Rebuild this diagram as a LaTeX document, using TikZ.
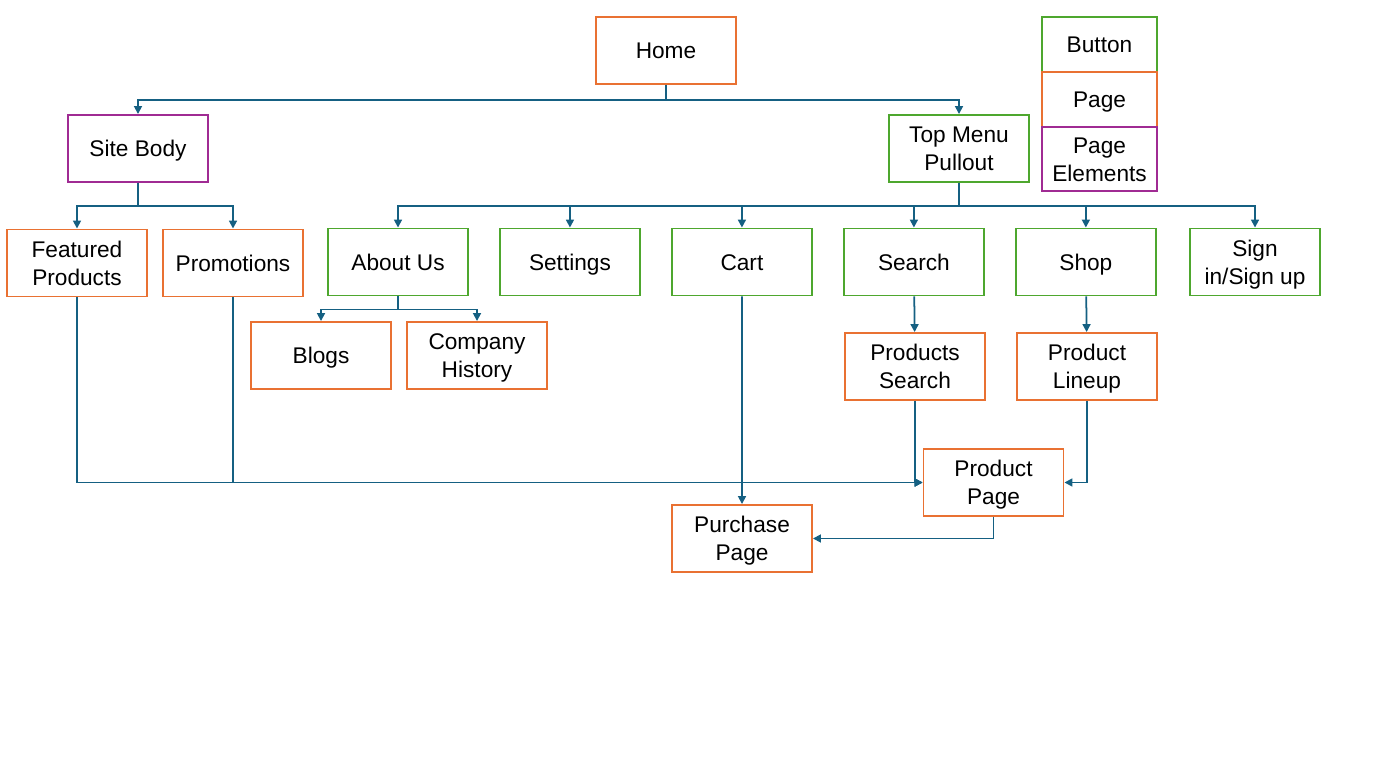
\documentclass[tikz,border=0pt]{standalone}
\usepackage{fontspec}
\setmainfont{Liberation Sans}
\usetikzlibrary{arrows.meta, positioning}

\definecolor{pgorange}{HTML}{E97132}
\definecolor{btngreen}{HTML}{4EA72E}
\definecolor{elpurple}{HTML}{A02B93}
\definecolor{linkblue}{HTML}{156082}

\begin{document}
\begin{tikzpicture}[x=0.02cm, y=-0.02cm, >={Triangle[length=4.5pt,width=4.5pt]}, node distance=3.44cm,
    box/.style={draw, line width=1.1pt, minimum width=2.8cm, minimum height=1.34cm, inner sep=0pt, align=center,
        font=\fontsize{12.9}{15.9}\selectfont, text height=12.24pt, text depth=3pt},
    twoline/.style={text height=28.14pt},
    btn/.style={box, draw=btngreen},
    pg/.style={box, draw=pgorange},
    elem/.style={box, draw=elpurple},
    key/.style={minimum width=2.3cm, outer sep=0pt},
    link/.style={draw=linkblue, line width=1pt}]
    \useasboundingbox (0,0) rectangle (1383,773);

    %define the pages
    \node[pg]   (home) at (666,50.5) {Home};
    \node[elem] (site) at (138,148.5) {Site Body};
    \node[btn, twoline] (menu) at (959,148.5) {Top Menu\\Pullout};
    \node[pg, twoline]  (feat) at (77,263) {Featured\\Products};
    \node[pg]   (promo) at (233,263) {Promotions};

    % the menu buttons
    \node[btn] (about) at (398,262) {About Us};
    \node[btn] (sett)   [right of=about] {Settings};
    \node[btn] (cart)   [right of=sett] {Cart};
    \node[btn] (search) [right of=cart] {Search};
    \node[btn] (shop)   [right of=search] {Shop};
    \node[btn, twoline, minimum width=2.6cm] (sign) at (1255,262) {Sign\\in/Sign up};

    \node[pg] (blogs) at (321,355.5) {Blogs};
    \node[pg, twoline] (hist)  at (477,355.5) {Company\\History};
    \node[pg, twoline] (psearch) at (915,366.5) {Products\\Search};
    \node[pg, twoline] (lineup)  at (1087,366.5) {Product\\Lineup};
    \node[pg, twoline] (prod)  at (993.5,482.5) {Product\\Page};
    \node[pg, twoline] (purch) at (742,538.5) {Purchase\\Page};

    % legend
    \node[btn, key, minimum height=1.1cm] (kbtn) at (1099.5,44.5) {Button};
    \node[pg, key, minimum height=1.1cm] (kpg) [below=0pt of kbtn] {Page};
    \node[elem, key, twoline, minimum height=1.28cm] (kelem) [below=0pt of kpg] {Page\\Elements};

    % define the links
    \draw[link,->] (home.south) -- ++(0,15) -| (site.north);
    \draw[link,->] (home.south) -- ++(0,15) -| (menu.north);
    \draw[link,->] (site.south) -- ++(0,23) -| (feat.north);
    \draw[link,->] (site.south) -- ++(0,23) -| (promo.north);
    \foreach \b in {about, sett, cart, search, shop, sign}
        \draw[link,->] (menu.south) -- ++(0,23) -| (\b.north);
    \draw[link,->] (about.south) -- ++(0,13) -| (blogs.north);
    \draw[link,->] (about.south) -- ++(0,13) -| (hist.north);
    \draw[link,->] (search) -- (psearch);
    \draw[link,->] (shop) -- (lineup);
    \draw[link,->] (feat.south) |- (prod.west);
    \draw[link,->] (promo.south) |- (prod.west);
    \draw[link,->] (psearch.south) |- (prod.west);
    \draw[link,->] (lineup.south) |- (prod.east);
    \draw[link,->] (cart.south) -- (purch.north);
    \draw[link,->] (prod.south) |- (purch.east);
\end{tikzpicture}
\end{document}
